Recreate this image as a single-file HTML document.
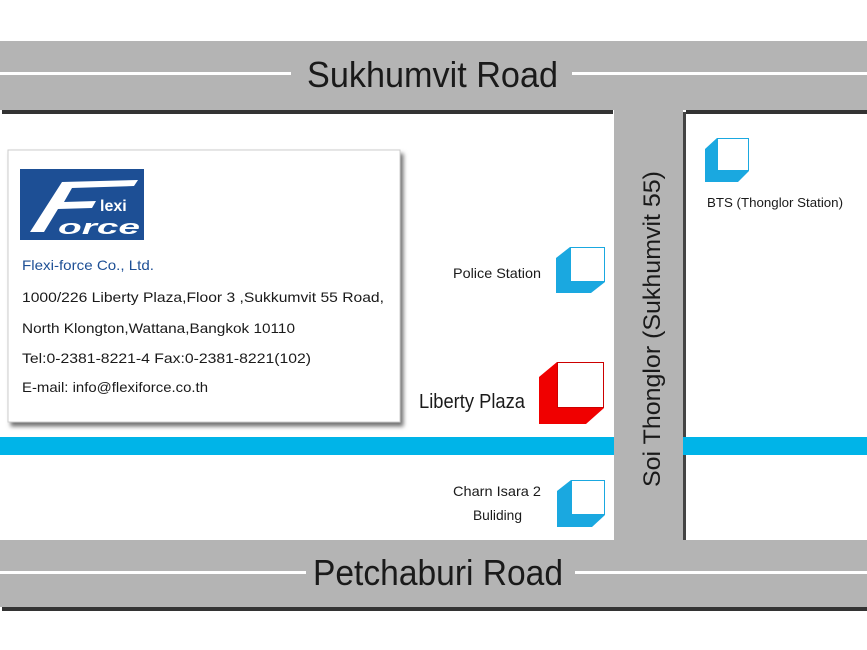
<!DOCTYPE html>
<html><head><style>html,body{margin:0;padding:0;background:#fff}svg{display:block}</style></head>
<body>
<svg width="867" height="650" viewBox="0 0 867 650" xmlns="http://www.w3.org/2000/svg" font-family="Liberation Sans, sans-serif">
<defs>
<filter id="sh" x="-5%" y="-5%" width="115%" height="120%"><feDropShadow dx="3" dy="4" stdDeviation="2" flood-color="#000" flood-opacity="0.55"/></filter>
</defs>
<rect width="867" height="650" fill="#fff"/>
<!-- shadows of roads -->
<rect x="2" y="110" width="611" height="4" fill="#333"/>
<rect x="686" y="110" width="181" height="4" fill="#333"/>
<rect x="2" y="607" width="865" height="4" fill="#333"/>
<rect x="683" y="112" width="3" height="428" fill="#444"/>
<!-- blue line -->
<rect x="0" y="437" width="867" height="18" fill="#00b4e8"/>
<!-- roads -->
<rect x="0" y="41" width="867" height="69" fill="#b4b4b4"/>
<rect x="0" y="540" width="867" height="67" fill="#b4b4b4"/>
<rect x="614" y="108" width="69" height="434" fill="#b4b4b4"/>
<rect x="0" y="72" width="291" height="3" fill="#fff"/>
<rect x="572" y="72" width="295" height="3" fill="#fff"/>
<rect x="0" y="571" width="306" height="3" fill="#fff"/>
<rect x="575" y="571" width="292" height="3" fill="#fff"/>
<text x="307" y="87" font-size="36" fill="#1a1a1a" textLength="251" lengthAdjust="spacingAndGlyphs">Sukhumvit Road</text>
<text x="313" y="585" font-size="36" fill="#1a1a1a" textLength="250" lengthAdjust="spacingAndGlyphs">Petchaburi Road</text>
<text transform="translate(660,487) rotate(-90)" font-size="24" fill="#1a1a1a" textLength="316" lengthAdjust="spacingAndGlyphs">Soi Thonglor (Sukhumvit 55)</text>
<!-- card -->
<rect x="8" y="150" width="392" height="272" fill="#fff" stroke="#ccc" filter="url(#sh)"/>
<rect x="20" y="169" width="124" height="71" fill="#1d4f95"/>
<path d="M30 232 L62 182 L138 180 L134 186 L72 188 L64 202 L96 201 L92 208 L58 209 L44 232 Z" fill="#fff"/>
<text x="100" y="211" font-size="16" font-weight="bold" fill="#fff">lexi</text>
<text x="58" y="234" font-size="20" font-weight="bold" font-style="italic" fill="#fff" textLength="82" lengthAdjust="spacingAndGlyphs">orce</text>
<text x="22" y="270" font-size="14" fill="#1d4f95" textLength="132" lengthAdjust="spacingAndGlyphs">Flexi-force Co., Ltd.</text>
<text x="22" y="302" font-size="14" fill="#1a1a1a" textLength="362" lengthAdjust="spacingAndGlyphs">1000/226 Liberty Plaza,Floor 3 ,Sukkumvit 55 Road,</text>
<text x="22" y="333" font-size="14" fill="#1a1a1a" textLength="273" lengthAdjust="spacingAndGlyphs">North Klongton,Wattana,Bangkok 10110</text>
<text x="22" y="363" font-size="14" fill="#1a1a1a" textLength="289" lengthAdjust="spacingAndGlyphs">Tel:0-2381-8221-4 Fax:0-2381-8221(102)</text>
<text x="22" y="392" font-size="14" fill="#1a1a1a" textLength="186" lengthAdjust="spacingAndGlyphs">E-mail: info@flexiforce.co.th</text>
<!-- cubes -->
<g>
<path d="M570 247 L556 258 L556 293 L591 293 L605 282 L570 282 Z" fill="#1aa8e0"/>
<rect x="570.5" y="247.5" width="34" height="34" fill="#fff" stroke="#1aa8e0"/>
<path d="M571 480 L557 491 L557 527 L592 527 L605 515 L571 515 Z" fill="#1aa8e0"/>
<rect x="571.5" y="480.5" width="33" height="34" fill="#fff" stroke="#1aa8e0"/>
<path d="M717 138 L705 149 L705 182 L738 182 L749 171 L717 171 Z" fill="#1aa8e0"/>
<rect x="717.5" y="138.5" width="31" height="32" fill="#fff" stroke="#1aa8e0"/>
<path d="M557 362 L539 377 L539 424 L586 424 L604 408 L557 408 Z" fill="#f00000"/>
<rect x="557.5" y="362.5" width="46" height="45" fill="#fff" stroke="#c00"/>
</g>
<text x="453" y="278" font-size="14" fill="#1a1a1a" textLength="88" lengthAdjust="spacingAndGlyphs">Police Station</text>
<text x="419" y="408" font-size="20" fill="#1a1a1a" textLength="106" lengthAdjust="spacingAndGlyphs">Liberty Plaza</text>
<text x="453" y="496" font-size="14" fill="#1a1a1a" textLength="88" lengthAdjust="spacingAndGlyphs">Charn Isara 2</text>
<text x="473" y="520" font-size="14" fill="#1a1a1a" textLength="49" lengthAdjust="spacingAndGlyphs">Buliding</text>
<text x="707" y="207" font-size="13" fill="#1a1a1a" textLength="136" lengthAdjust="spacingAndGlyphs">BTS (Thonglor Station)</text>
</svg>
</body></html>
